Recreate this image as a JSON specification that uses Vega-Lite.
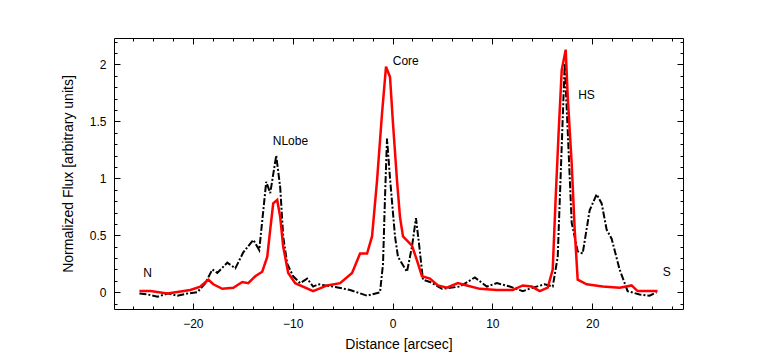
{
  "$schema": "https://vega.github.io/schema/vega-lite/v6.json",
  "width": 569,
  "height": 271,
  "autosize": {"type": "none"},
  "padding": {"left": 114, "top": 38, "right": 78, "bottom": 55},
  "background": "white",
  "config": {
    "view": {"stroke": "black", "strokeWidth": 1},
    "axis": {
      "grid": false,
      "domain": false,
      "labelFont": "Liberation Sans",
      "titleFont": "Liberation Sans",
      "labelColor": "black",
      "tickColor": "black",
      "titleColor": "black",
      "labelFontSize": 12,
      "titleFontSize": 14,
      "titleFontWeight": "normal",
      "tickWidth": 1
    }
  },
  "datasets": {
    "black": [
      {"x": -25.35, "y": -0.01}, {"x": -24.5, "y": -0.02}, {"x": -23.55, "y": -0.04}, {"x": -22.5, "y": -0.01}, {"x": -21.55, "y": -0.03},
      {"x": -20.5, "y": -0.01}, {"x": -19.55, "y": 0.0}, {"x": -18.75, "y": 0.08}, {"x": -18.05, "y": 0.2}, {"x": -17.55, "y": 0.17},
      {"x": -16.55, "y": 0.26}, {"x": -15.75, "y": 0.21}, {"x": -14.95, "y": 0.35}, {"x": -13.95, "y": 0.46}, {"x": -13.35, "y": 0.37},
      {"x": -12.65, "y": 0.97}, {"x": -12.25, "y": 0.87}, {"x": -11.65, "y": 1.2}, {"x": -11.25, "y": 0.92}, {"x": -10.95, "y": 0.49},
      {"x": -10.55, "y": 0.25}, {"x": -9.95, "y": 0.14}, {"x": -9.25, "y": 0.08}, {"x": -8.55, "y": 0.12}, {"x": -7.95, "y": 0.05},
      {"x": -7.45, "y": 0.07}, {"x": -5.95, "y": 0.05}, {"x": -4.25, "y": 0.02}, {"x": -2.55, "y": -0.03}, {"x": -1.25, "y": 0.0},
      {"x": -0.95, "y": 0.25}, {"x": -0.75, "y": 0.84}, {"x": -0.55, "y": 1.35}, {"x": -0.25, "y": 1.0}, {"x": 0.25, "y": 0.49},
      {"x": 0.55, "y": 0.31}, {"x": 1.45, "y": 0.18}, {"x": 1.95, "y": 0.4}, {"x": 2.35, "y": 0.65}, {"x": 2.65, "y": 0.43},
      {"x": 3.05, "y": 0.11}, {"x": 3.75, "y": 0.09}, {"x": 4.95, "y": 0.03}, {"x": 6.75, "y": 0.05}, {"x": 8.25, "y": 0.13},
      {"x": 9.45, "y": 0.05}, {"x": 10.45, "y": 0.08}, {"x": 11.75, "y": 0.05}, {"x": 13.05, "y": 0.01}, {"x": 14.05, "y": 0.04},
      {"x": 15.25, "y": 0.07}, {"x": 16.05, "y": 0.05}, {"x": 16.55, "y": 0.31}, {"x": 16.95, "y": 1.28}, {"x": 17.25, "y": 2.01},
      {"x": 17.55, "y": 1.42}, {"x": 17.95, "y": 0.61}, {"x": 18.55, "y": 0.36}, {"x": 19.05, "y": 0.34}, {"x": 19.75, "y": 0.72},
      {"x": 20.45, "y": 0.86}, {"x": 20.95, "y": 0.78}, {"x": 21.45, "y": 0.55}, {"x": 21.95, "y": 0.47}, {"x": 22.75, "y": 0.2},
      {"x": 23.55, "y": 0.01}, {"x": 24.75, "y": -0.02}, {"x": 25.75, "y": -0.03}, {"x": 26.45, "y": 0.0}
    ],
    "red": [
      {"x": -25.35, "y": 0.01}, {"x": -24.25, "y": 0.01}, {"x": -22.55, "y": -0.01}, {"x": -20.25, "y": 0.02}, {"x": -19.25, "y": 0.05},
      {"x": -18.45, "y": 0.11}, {"x": -17.95, "y": 0.07}, {"x": -17.05, "y": 0.03}, {"x": -15.95, "y": 0.04}, {"x": -15.05, "y": 0.09},
      {"x": -14.45, "y": 0.08}, {"x": -13.75, "y": 0.14}, {"x": -13.05, "y": 0.18}, {"x": -12.55, "y": 0.31}, {"x": -12.25, "y": 0.55},
      {"x": -11.95, "y": 0.78}, {"x": -11.55, "y": 0.81}, {"x": -11.25, "y": 0.66}, {"x": -10.95, "y": 0.4}, {"x": -10.45, "y": 0.17},
      {"x": -9.75, "y": 0.08}, {"x": -7.95, "y": 0.01}, {"x": -6.55, "y": 0.06}, {"x": -5.25, "y": 0.08}, {"x": -4.05, "y": 0.17},
      {"x": -3.25, "y": 0.34}, {"x": -2.55, "y": 0.34}, {"x": -2.05, "y": 0.49}, {"x": -1.55, "y": 0.98}, {"x": -1.05, "y": 1.57},
      {"x": -0.65, "y": 1.98}, {"x": -0.25, "y": 1.89}, {"x": 0.05, "y": 1.48}, {"x": 0.45, "y": 0.98}, {"x": 0.75, "y": 0.66},
      {"x": 1.05, "y": 0.49}, {"x": 1.95, "y": 0.41}, {"x": 2.45, "y": 0.28}, {"x": 2.95, "y": 0.14}, {"x": 3.75, "y": 0.12},
      {"x": 4.55, "y": 0.06}, {"x": 5.45, "y": 0.04}, {"x": 6.55, "y": 0.08}, {"x": 7.45, "y": 0.06}, {"x": 8.75, "y": 0.03},
      {"x": 10.45, "y": 0.02}, {"x": 12.05, "y": 0.02}, {"x": 13.05, "y": 0.06}, {"x": 13.95, "y": 0.05}, {"x": 14.75, "y": 0.01},
      {"x": 15.55, "y": 0.04}, {"x": 16.05, "y": 0.2}, {"x": 16.35, "y": 0.84}, {"x": 16.65, "y": 1.42}, {"x": 16.95, "y": 1.95},
      {"x": 17.35, "y": 2.13}, {"x": 17.55, "y": 1.72}, {"x": 17.95, "y": 1.13}, {"x": 18.25, "y": 0.55}, {"x": 18.55, "y": 0.11},
      {"x": 19.45, "y": 0.07}, {"x": 21.05, "y": 0.05}, {"x": 22.75, "y": 0.04}, {"x": 23.95, "y": 0.06}, {"x": 24.55, "y": 0.01},
      {"x": 26.55, "y": 0.01}
    ],
    "labels1": [
      {"x": -24.97, "y": 0.17, "t": "N"},
      {"x": -12.0, "y": 1.33, "t": "NLobe"},
      {"x": 0.02, "y": 2.03, "t": "Core"}
    ],
    "labels2": [
      {"x": 18.6, "y": 1.73, "t": "HS"},
      {"x": 27.07, "y": 0.18, "t": "S"}
    ]
  },
  "layer": [
    {
      "data": {"name": "black"},
      "mark": {"type": "line", "color": "black", "strokeWidth": 2, "strokeDash": [7, 2, 2, 2]},
      "encoding": {
        "x": {"field": "x", "type": "quantitative", "scale": {"domain": [-27.9, 29.1], "nice": false, "zero": false},
          "axis": {"orient": "bottom", "values": [-20, -10, 0, 10, 20], "tickSize": -6, "labelPadding": 15, "title": "Distance [arcsec]", "titlePadding": 8}},
        "y": {"field": "y", "type": "quantitative", "scale": {"domain": [-0.147, 2.232], "nice": false, "zero": false},
          "axis": {"orient": "left", "values": [0, 0.5, 1, 1.5, 2], "tickSize": -6, "labelPadding": 14, "labelExpr": "toString(datum.value)", "title": "Normalized Flux [arbitrary units]", "titlePadding": 14}}
      }
    },
    {
      "data": {"name": "red"},
      "mark": {"type": "line", "color": "#ff0000", "strokeWidth": 2.5},
      "encoding": {
        "x": {"field": "x", "type": "quantitative",
          "axis": {"orient": "top", "values": [-20, -10, 0, 10, 20], "tickSize": -6, "labels": false, "title": null}},
        "y": {"field": "y", "type": "quantitative",
          "axis": {"orient": "right", "values": [0, 0.5, 1, 1.5, 2], "tickSize": -6, "labels": false, "title": null}}
      }
    },
    {
      "data": {"name": "labels1"},
      "mark": {"type": "text", "align": "left", "baseline": "middle", "font": "Liberation Sans", "fontSize": 12, "color": "black"},
      "encoding": {
        "x": {"field": "x", "type": "quantitative",
          "axis": {"orient": "bottom", "values": [-26, -24, -22, -18, -16, -14, -12, -8, -6, -4, -2, 2, 4, 6, 8, 12, 14, 16, 18, 22, 24, 26, 28], "tickSize": -3, "labels": false, "title": null}},
        "y": {"field": "y", "type": "quantitative",
          "axis": {"orient": "left", "values": [-0.1, 0.1, 0.2, 0.3, 0.4, 0.6, 0.7, 0.8, 0.9, 1.1, 1.2, 1.3, 1.4, 1.6, 1.7, 1.8, 1.9, 2.1, 2.2], "tickSize": -3, "labels": false, "title": null}},
        "text": {"field": "t"}
      }
    },
    {
      "data": {"name": "labels2"},
      "mark": {"type": "text", "align": "left", "baseline": "middle", "font": "Liberation Sans", "fontSize": 12, "color": "black"},
      "encoding": {
        "x": {"field": "x", "type": "quantitative",
          "axis": {"orient": "top", "values": [-26, -24, -22, -18, -16, -14, -12, -8, -6, -4, -2, 2, 4, 6, 8, 12, 14, 16, 18, 22, 24, 26, 28], "tickSize": -3, "labels": false, "title": null}},
        "y": {"field": "y", "type": "quantitative",
          "axis": {"orient": "right", "values": [-0.1, 0.1, 0.2, 0.3, 0.4, 0.6, 0.7, 0.8, 0.9, 1.1, 1.2, 1.3, 1.4, 1.6, 1.7, 1.8, 1.9, 2.1, 2.2], "tickSize": -3, "labels": false, "title": null}},
        "text": {"field": "t"}
      }
    }
  ],
  "resolve": {"axis": {"x": "independent", "y": "independent"}}
}
